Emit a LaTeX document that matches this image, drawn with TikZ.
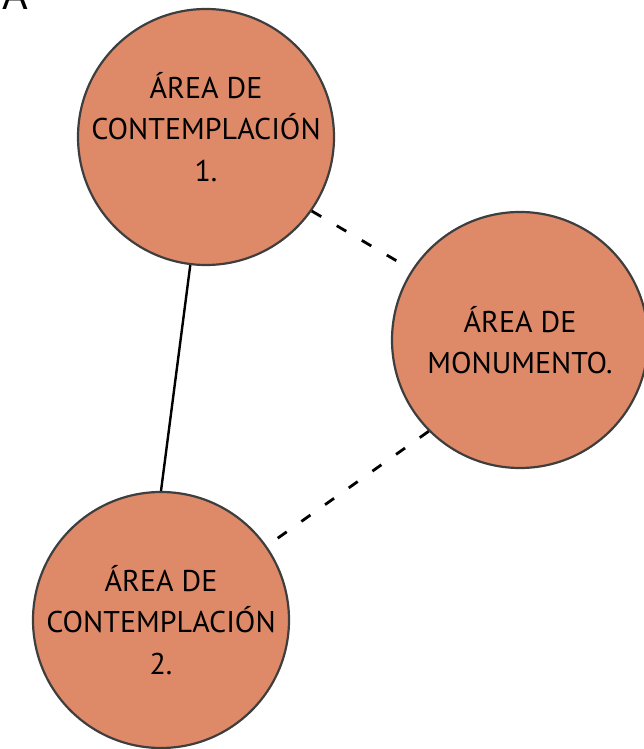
\documentclass[tikz,border=0pt]{standalone}
\usepackage{fontspec}
\setmainfont{PT Sans}
\usepackage{xcolor}
\usepackage{tikz}
\usetikzlibrary{positioning, calc}
\definecolor{areafill}{RGB}{222,137,104}
\definecolor{areaborder}{RGB}{62,62,62}

\begin{document}
\begin{tikzpicture}[x=1pt, y=1pt,
  area/.style={circle, draw=areaborder, line width=2.2pt, fill=areafill, minimum size=256pt, inner sep=0pt},
  areatext/.style={align=center, inner sep=0pt, font=\fontsize{30}{41.5}\selectfont},
  solidlink/.style={line width=2.4pt},
  dashlink/.style={line width=2.8pt, dash pattern=on 11pt off 18pt}]
\useasboundingbox (0,0) rectangle (643,749);

% Corner label
\node[anchor=base west, inner sep=0pt, font=\fontsize{44}{44}\selectfont] (lbl) at (2,739) {A};

% Areas
\node[area] (c1) at (206,612) {};
\node[area] (mon) at (520,409) {};
\node[area] (c2) at (161,129) {};

\node[areatext] (t1) at ([yshift=10pt]c1) {ÁREA DE\\CONTEMPLACIÓN\\1.};
\node[areatext] (t2) at (mon) {ÁREA DE\\MONUMENTO.};
\node[areatext] (t3) at (c2) {ÁREA DE\\CONTEMPLACIÓN\\2.};

% Links
\draw[solidlink] (c1.263) -- (c2.90);
\draw[dashlink] (c1.-35) -- (mon.147);
\draw[dashlink] (mon.225) -- (c2.35);

\end{tikzpicture}
\end{document}
